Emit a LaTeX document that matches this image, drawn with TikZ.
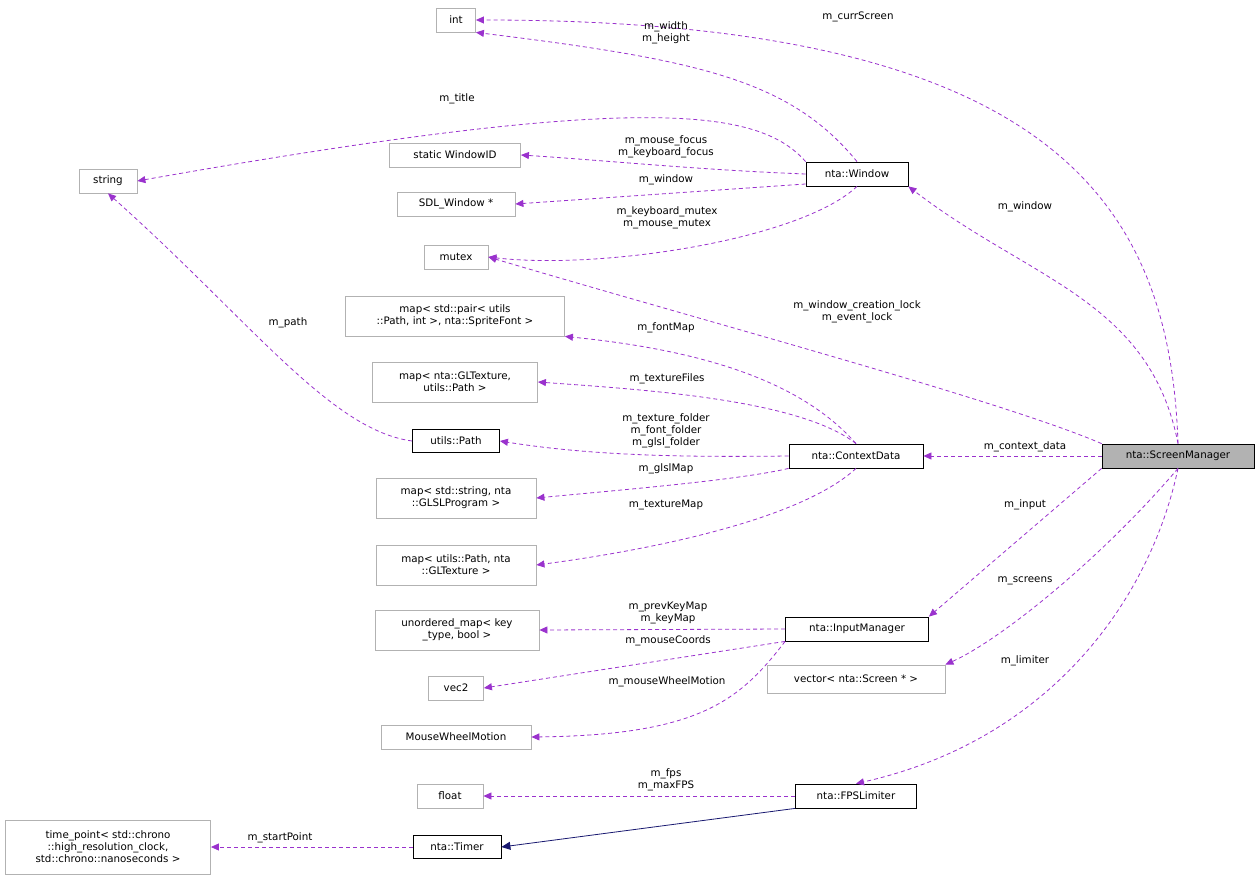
\documentclass[tikz,border=0pt]{standalone}
\usepackage{fontspec}
\setmainfont{DejaVu Sans}
\usetikzlibrary{arrows.meta}
\definecolor{pur}{HTML}{9A32CD}
\definecolor{nav}{HTML}{191970}
\begin{document}
\begin{tikzpicture}[x=1pt,y=-1pt,line width=0.8pt,
  every node/.style={font=\fontsize{10.3}{12}\selectfont},
  gbox/.style={draw=black!30,fill=white,inner sep=2pt,minimum height=24pt,align=center},
  bbox/.style={draw=black,fill=white,inner sep=2pt,minimum height=24pt,align=center},
  rel/.style={draw=pur,dash pattern=on 4pt off 3pt,-{Triangle[length=8pt,width=7pt,fill=pur]}},
  lab/.style={inner sep=0pt,align=center,fill=none}]
\useasboundingbox (0,0) rectangle (1260,880);
\node[gbox,minimum width=39pt] (int) at (456,20) {int};
\node[gbox,minimum width=58pt] (str) at (108,181) {string};
\node[gbox,minimum width=131pt] (wid) at (455,155) {static WindowID};
\node[gbox,minimum width=118pt] (sdl) at (456,204) {SDL\_Window *};
\node[gbox,minimum width=64pt] (mtx) at (456,257) {mutex};
\node[gbox,minimum width=219pt,minimum height=40pt] (mfont) at (455,316) {map< std::pair< utils\\::Path, int >, nta::SpriteFont >};
\node[gbox,minimum width=165pt,minimum height=40pt] (mtexf) at (455,382) {map< nta::GLTexture,\\utils::Path >};
\node[bbox,minimum width=87pt,minimum height=23pt] (path) at (456,441) {utils::Path};
\node[gbox,minimum width=160pt,minimum height=40pt] (mglsl) at (456,498) {map< std::string, nta\\::GLSLProgram >};
\node[gbox,minimum width=160pt,minimum height=40pt] (mtex) at (456,565) {map< utils::Path, nta\\::GLTexture >};
\node[gbox,minimum width=164pt,minimum height=40pt] (umap) at (457,630) {unordered\_map< key\\\_type, bool >};
\node[gbox,minimum width=55pt] (vec) at (456,688) {vec2};
\node[gbox,minimum width=150pt] (mwm) at (456,737) {MouseWheelMotion};
\node[gbox,minimum width=66pt] (flt) at (450,796) {float};
\node[gbox,minimum width=205pt,minimum height=54pt] (tp) at (108,847) {time\_point< std::chrono\\::high\_resolution\_clock,\\ std::chrono::nanoseconds >};
\node[bbox,minimum width=88pt,minimum height=23pt] (tim) at (457,847) {nta::Timer};
\node[bbox,minimum width=102pt,minimum height=24pt] (win) at (857,174) {nta::Window};
\node[bbox,minimum width=134pt,minimum height=24pt] (cd) at (856,456) {nta::ContextData};
\node[bbox,minimum width=143pt,minimum height=24pt] (im) at (857,629) {nta::InputManager};
\node[gbox,minimum width=178pt,minimum height=28pt] (vsc) at (856,679) {vector< nta::Screen * >};
\node[bbox,minimum width=121pt,minimum height=24pt] (fps) at (856,796) {nta::FPSLimiter};
\node[draw=black,fill=black!30,inner sep=2pt,minimum width=152pt,minimum height=24pt] (sm) at (1178,456) {nta::ScreenManager};

\draw[rel] (sm.north) .. controls (1170,200) and (1050,20) .. (int.east);
\node[lab] (l1) at (858,17) {m\_currScreen};
\draw[rel] (win.north) .. controls (790,80) and (700,60) .. (int.south east);
\node[lab] (l2) at (666,33) {m\_width\\m\_height};
\draw[rel] (win.north west) .. controls (760,110) and (650,90) .. (str.east);
\node[lab] (l3) at (457,99) {m\_title};
\draw[rel] (win.west) .. controls (700,170) and (600,160) .. (wid.east);
\node[lab] (l4) at (666,147) {m\_mouse\_focus\\m\_keyboard\_focus};
\draw[rel] (win.west |- 0,184) -- (sdl.east);
\node[lab] (l5) at (666,180) {m\_window};
\draw[rel] (win.south) .. controls (800,240) and (600,270) .. (mtx.east);
\node[lab] (l6) at (667,218) {m\_keyboard\_mutex\\m\_mouse\_mutex};
\draw[rel] (sm.north) .. controls (1150,300) and (1030,280) .. (win.south east);
\node[lab] (l7) at (1025,207) {m\_window};
\draw[rel] (sm.north west) .. controls (1000,400) and (700,320) .. (mtx.east);
\node[lab] (l8) at (857,312) {m\_window\_creation\_lock\\m\_event\_lock};
\draw[rel] (path.west) .. controls (330,430) and (250,320) .. (str.south);
\node[lab] (l9) at (288,323) {m\_path};
\draw[rel] (cd.north) .. controls (800,380) and (700,350) .. (mfont.south east);
\node[lab] (l10) at (666,328) {m\_fontMap};
\draw[rel] (cd.north) .. controls (800,400) and (650,390) .. (mtexf.east);
\node[lab] (l11) at (667,379) {m\_textureFiles};
\draw[rel] (cd.west) .. controls (700,457) and (600,457) .. (path.east);
\node[lab] (l12) at (666,431) {m\_texture\_folder\\m\_font\_folder\\m\_glsl\_folder};
\draw[rel] (cd.south west) .. controls (740,480) and (620,490) .. (mglsl.east);
\node[lab] (l13) at (666,469) {m\_glslMap};
\draw[rel] (cd.south) .. controls (800,520) and (650,550) .. (mtex.east);
\node[lab] (l14) at (666,505) {m\_textureMap};
\draw[rel] (sm.west) -- (cd.east);
\node[lab] (l15) at (1025,447) {m\_context\_data};
\draw[rel] (sm.south west) -- (im.north east);
\node[lab] (l16) at (1025,505) {m\_input};
\draw[rel] (sm.south) .. controls (1100,560) and (1000,640) .. (vsc.north east);
\node[lab] (l17) at (1025,581) {m\_screens};
\draw[rel] (sm.south) .. controls (1150,600) and (1050,740) .. (fps.north);
\node[lab] (l18) at (1025,661) {m\_limiter};
\draw[rel] (im.west) -- (umap.east);
\node[lab] (l19) at (668,613) {m\_prevKeyMap\\m\_keyMap};
\draw[rel] (im.south west) -- (vec.east);
\node[lab] (l20) at (668,641) {m\_mouseCoords};
\draw[rel] (im.south west) .. controls (740,700) and (700,735) .. (mwm.east);
\node[lab] (l21) at (667,682) {m\_mouseWheelMotion};
\draw[rel] (fps.west) -- (flt.east);
\node[lab] (l22) at (666,780) {m\_fps\\m\_maxFPS};
\draw[rel] (tim.west) -- (tp.east);
\node[lab] (l23) at (280,838) {m\_startPoint};
\draw[draw=nav,-{Triangle[length=9pt,width=8pt,fill=nav]}] (fps.south west) -- (tim.east);
\end{tikzpicture}
\end{document}
